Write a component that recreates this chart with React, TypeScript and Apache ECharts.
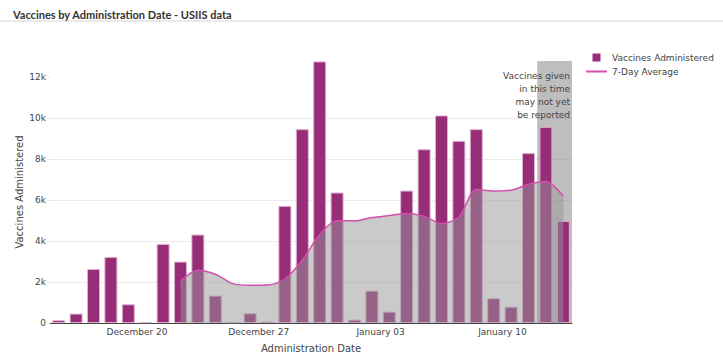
import React, { useEffect, useRef } from "react";
import * as echarts from "echarts";

// Administration dates (one bar per day)
const dates: string[] = [
  "Dec 15", "Dec 16", "Dec 17", "Dec 18", "Dec 19", "Dec 20", "Dec 21", "Dec 22", "Dec 23", "Dec 24",
  "Dec 25", "Dec 26", "Dec 27", "Dec 28", "Dec 29", "Dec 30", "Dec 31", "Jan 01", "Jan 02", "Jan 03",
  "Jan 04", "Jan 05", "Jan 06", "Jan 07", "Jan 08", "Jan 09", "Jan 10", "Jan 11", "Jan 12", "Jan 13",
];

// Vaccines administered per day
const administered: number[] = [
  140, 460, 2640, 3230, 915, 40, 3865, 3000, 4320, 1340,
  40, 475, 70, 5720, 9470, 12780, 6375, 165, 1580, 555,
  6470, 8490, 10140, 8900, 9470, 1210, 800, 8300, 9585, 4990,
];

// 7-day average, starting Dec 22
const avgStart = "Dec 22";
const sevenDayAvg: number[] = [
  2050, 2575, 2380, 1925, 1845, 1860, 2150, 3065, 4320, 4990,
  4990, 5150, 5250, 5350, 5220, 4860, 5180, 6520, 6450, 6490,
  6780, 6910, 6195,
];

// x tick labels (placed at the start of these days)
const tickDays: string[] = ["Dec 20", "Dec 27", "Jan 03", "Jan 10"];
const tickLabels: string[] = ["December 20", "December 27", "January 03", "January 10"];

// period that may not yet be fully reported
const unreportedFrom = "Jan 12";
const noteLines: string[] = ["Vaccines given", "in this time", "may not yet", "be reported"];

const yTicks: number[] = [0, 2000, 4000, 6000, 8000, 10000, 12000];
const yMax = 12800;

const FONT = "DejaVu Sans";

export default function App() {
  const ref = useRef<HTMLDivElement>(null);

  useEffect(() => {
    document.body.style.margin = "0";
    if (!ref.current) return;
    const chart = echarts.init(ref.current, null, { renderer: "svg" });

    const barData = administered.map((v, i) => [i + 0.5, v]);
    const avgOffset = dates.indexOf(avgStart);
    const avgData = sevenDayAvg.map((v, i) => [avgOffset + i + 0.5, v]);
    const tickValues = tickDays.map((d) => dates.indexOf(d));
    const shadeStart = dates.indexOf(unreportedFrom);

    chart.setOption({
      animation: false,
      title: {
        text: "Vaccines by Administration Date - USIIS data",
        left: 8,
        top: 4,
        textStyle: { fontFamily: "Lato", fontWeight: "bold", fontSize: 11, color: "#333" },
      },
      graphic: [
        {
          type: "line",
          shape: { x1: 0, y1: 21, x2: 723, y2: 21 },
          style: { stroke: "#d4d4d4", lineWidth: 1 },
        },
      ],
      legend: {
        orient: "vertical",
        left: 581,
        top: 48,
        itemGap: 5,
        itemWidth: 21,
        itemHeight: 8,
        itemStyle: { borderWidth: 0 },
        textStyle: { fontFamily: FONT, fontSize: 9, color: "#444" },
        data: [
          { name: "Vaccines Administered", icon: "path://M0,0H10V10H0Z", itemStyle: { color: "#972c77", borderWidth: 0 } },
          { name: "7-Day Average", icon: "path://M0,0H21V2H0Z", itemStyle: { color: "#d34fab", borderWidth: 0 } },
        ],
      },
      grid: { left: 50, right: 151, top: 61, bottom: 35, outerBoundsMode: "none" },
      xAxis: {
        type: "value",
        min: 0,
        max: dates.length,
        name: "Administration Date",
        nameLocation: "middle",
        nameGap: 20,
        nameMoveOverlap: false,
        nameTextStyle: { fontFamily: FONT, fontSize: 10, color: "#444" },
        axisLine: { show: true, lineStyle: { color: "#444", width: 1 } },
        axisTick: { show: false },
        splitLine: { show: false },
        axisLabel: {
          customValues: tickValues,
          fontFamily: FONT,
          fontSize: 9,
          color: "#444",
          margin: 4,
          formatter: (v: number) => {
            const k = tickValues.indexOf(Math.round(v));
            return k >= 0 ? tickLabels[k] : "";
          },
        },
      },
      yAxis: {
        type: "value",
        min: 0,
        max: yMax,
        interval: 2000,
        name: "Vaccines Administered",
        nameLocation: "middle",
        nameGap: 26,
        nameMoveOverlap: false,
        nameTextStyle: { fontFamily: FONT, fontSize: 10, color: "#444" },
        axisLine: { show: false },
        axisTick: { show: true, length: 3, lineStyle: { color: "#e6e6e6" }, customValues: yTicks },
        splitLine: { show: true, showMaxLine: false, lineStyle: { color: "#ebebeb", width: 1 } },
        axisLabel: {
          customValues: yTicks,
          fontFamily: FONT,
          fontSize: 9,
          color: "#444",
          margin: 4,
          formatter: (v: number) => (v === 0 ? "0" : v / 1000 + "k"),
        },
      },
      series: [
        {
          name: "Vaccines Administered",
          type: "bar",
          data: barData,
          barWidth: 13,
          itemStyle: { color: "#972c77", borderColor: "#dcb2d0", borderWidth: 1 },
        },
        {
          name: "7-Day Average",
          type: "line",
          data: avgData,
          symbol: "none",
          smooth: 0.3,
          lineStyle: { color: "#d34fab", width: 1.5 },
          itemStyle: { color: "#d34fab" },
          areaStyle: { color: "rgba(150,150,150,0.5)", opacity: 1, origin: "start" },
        },
        {
          name: "unreported",
          type: "custom",
          data: [[shadeStart, dates.length]],
          silent: true,
          renderItem: (params: any, api: any) => {
            const p0 = api.coord([api.value(0), yMax]);
            const p1 = api.coord([api.value(1), 0]);
            return {
              type: "group",
              children: [
                {
                  type: "rect",
                  shape: { x: p0[0], y: p0[1], width: p1[0] - p0[0], height: p1[1] - p0[1] },
                  style: { fill: "rgba(110,110,110,0.45)" },
                },
                {
                  type: "text",
                  x: p1[0] - 2,
                  y: p0[1] + 8,
                  style: {
                    text: noteLines.join("\n"),
                    align: "right",
                    verticalAlign: "top",
                    fontFamily: FONT,
                    fontSize: 9,
                    lineHeight: 13.2,
                    fill: "#444",
                  },
                },
              ],
            };
          },
        },
      ],
    });

    return () => chart.dispose();
  }, []);

  return <div ref={ref} style={{ width: 723, height: 358 }} />;
}
